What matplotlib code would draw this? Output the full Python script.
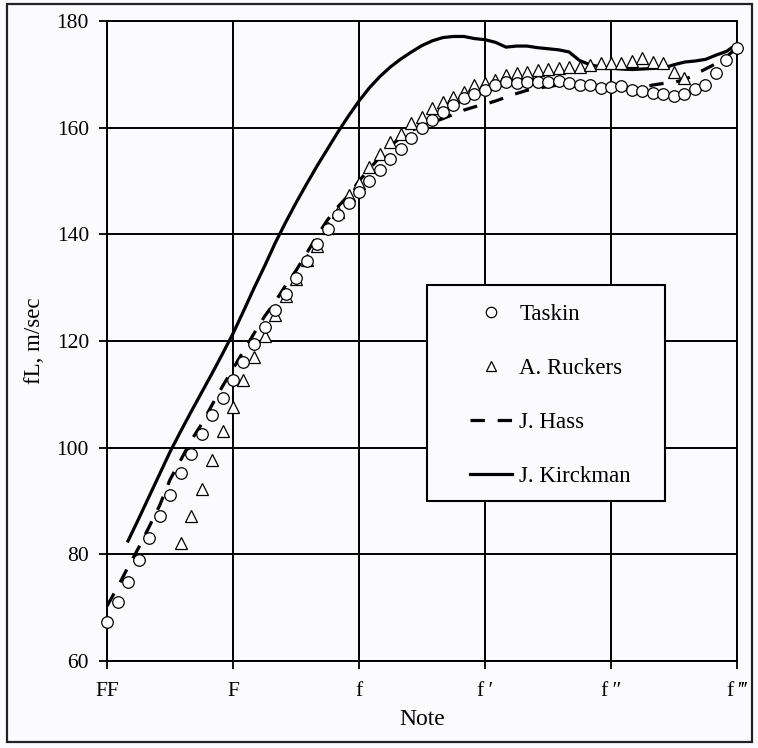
#--------------------------------------------------------------------------------------------
# Script to plot fL (m/sec) against note for four harpsichord scalings
#--------------------------------------------------------------------------------------------

import numpy as np
import matplotlib
matplotlib.use('Agg')
import matplotlib.pyplot as plt
from matplotlib.patches import Rectangle
from matplotlib.lines import Line2D

#--------------------------------------------------------------------------------------------
# DATA (x = semitones above FF)

note_labels = ['FF', 'F', 'f', 'f\u2009\u2032', 'f\u2009\u2033', 'f\u2009\u2034']
note_ticks = [0, 12, 24, 36, 48, 60]

taskin_x = list(range(0, 61))
taskin_y = [67.3, 71.1, 74.9, 78.9, 83.1, 87.1, 91.2, 95.2, 98.9, 102.6,
            106.1, 109.4, 112.7, 116.1, 119.4, 122.6, 125.9, 128.9, 131.9, 135.0,
            138.1, 141.0, 143.7, 145.8, 148.0, 150.0, 152.0, 154.1, 156.0, 158.0,
            159.9, 161.4, 163.0, 164.2, 165.5, 166.4, 167.0, 168.0, 168.6, 168.4,
            168.6, 168.6, 168.6, 168.7, 168.4, 168.0, 168.0, 167.5, 167.7, 167.8,
            167.0, 166.8, 166.5, 166.3, 165.9, 166.4, 167.2, 168.0, 170.3, 172.7,
            174.9]

ruckers_x = list(range(7, 56))
ruckers_y = [82.2, 87.2, 92.2, 97.6, 103.2, 107.7, 112.6, 117.0, 121.0, 124.8,
             128.4, 131.7, 135.1, 137.9, 141.1, 144.2, 147.4, 149.6, 152.6, 155.1,
             157.3, 158.9, 160.8, 162.0, 163.6, 164.8, 165.8, 166.7, 168.0, 168.3,
             168.9, 169.9, 170.3, 170.5, 170.8, 171.0, 171.1, 171.4, 171.4, 171.7,
             172.2, 172.2, 172.1, 172.5, 173.0, 172.3, 172.1, 170.5, 169.3]

hass_x = list(range(0, 61))
hass_y = [70.3, 73.8, 77.6, 81.2, 85.1, 89.1, 94.0, 97.6, 101.3, 104.4,
          108.0, 111.5, 114.8, 118.1, 121.4, 124.6, 127.3, 130.4, 133.2, 136.4,
          139.7, 142.7, 145.2, 147.3, 150.0, 152.3, 154.5, 156.6, 158.2, 159.5,
          160.3, 161.0, 161.7, 162.5, 163.3, 163.9, 164.4, 165.0, 165.7, 166.4,
          167.0, 167.4, 167.7, 168.0, 167.9, 167.7, 167.4, 167.2, 167.1, 167.1,
          167.3, 167.6, 168.0, 168.3, 168.5, 169.0, 170.0, 171.0, 172.0, 173.3,
          175.0]

kirckman_x = list(range(2, 61))
kirckman_y = [82.5, 86.6, 90.8, 95.0, 99.2, 103.0, 106.7, 110.3, 113.9, 117.6,
              121.4, 125.6, 129.9, 134.0, 138.3, 142.2, 145.9, 149.4, 152.8, 156.0,
              159.2, 162.2, 165.0, 167.5, 169.6, 171.4, 172.9, 174.2, 175.4, 176.3,
              176.9, 177.1, 177.1, 176.7, 176.5, 176.0, 175.1, 175.3, 175.3, 175.0,
              174.8, 174.6, 174.2, 172.6, 171.8, 171.4, 171.2, 171.0, 170.9, 171.0,
              171.1, 171.2, 171.8, 172.3, 172.5, 172.8, 173.6, 174.3, 175.7]

#--------------------------------------------------------------------------------------------
# FIGURE

plt.rcParams['font.family'] = ['Liberation Serif', 'DejaVu Serif']
bg = '#fbfafd'

W, H = 758, 748
fig = plt.figure(figsize=(W / 100, H / 100), dpi=100, facecolor=bg)

# axes box in pixels: left 107, right 737, top 21, bottom 661
ax = fig.add_axes([107 / W, (H - 661) / H, 630 / W, 640 / H], facecolor=bg)

# outer frame of the figure
fig.patches.append(Rectangle((7 / W, 6 / H), 745 / W, 738 / H, transform=fig.transFigure,
                             fill=False, edgecolor='#222222', linewidth=1.6))

#--------------------------------------------------------------------------------------------
# Plot the series

ax.plot(kirckman_x, kirckman_y, color='black', linewidth=2.3, zorder=3)
ax.plot(hass_x, hass_y, color='black', linewidth=2.3, linestyle=(0, (4.5, 4)), zorder=3)
ax.plot(ruckers_x, ruckers_y, linestyle='none', marker='^', markersize=8.5,
        markerfacecolor='white', markeredgecolor='black', markeredgewidth=0.9,
        zorder=4, clip_on=False)
ax.plot(taskin_x, taskin_y, linestyle='none', marker='o', markersize=8.3,
        markerfacecolor='white', markeredgecolor='black', markeredgewidth=0.9,
        zorder=5, clip_on=False)

#--------------------------------------------------------------------------------------------
# Axes, ticks and grid

ax.set_xlim(0, 60)
ax.set_ylim(60, 180)
ax.set_xticks(note_ticks)
ax.set_xticklabels(note_labels)
ax.set_yticks(np.arange(60, 181, 20))
ax.tick_params(direction='out', length=6, width=1.3, labelsize=15.5, pad=7, color='black')
ax.tick_params(axis='x', pad=9)
ax.grid(True, color='black', linewidth=1.4)
ax.set_axisbelow(True)
for s in ax.spines.values():
    s.set_linewidth(1.4)

ax.set_xlabel('Note', fontsize=17, labelpad=6)
ax.set_ylabel('fL, m/sec', fontsize=16.5, labelpad=8)

#--------------------------------------------------------------------------------------------
# Legend (white box drawn separately)

box = Rectangle(((427 - 107) / 630, (661 - 501) / 640), (665 - 427) / 630, (501 - 285) / 640,
                transform=ax.transAxes, facecolor=bg, edgecolor='black', linewidth=1.5, zorder=6)
ax.add_patch(box)

handles = [Line2D([], [], linestyle='none', marker='o', markersize=7.5, markerfacecolor='white',
                  markeredgecolor='black', markeredgewidth=0.9),
           Line2D([], [], linestyle='none', marker='^', markersize=7.5, markerfacecolor='white',
                  markeredgecolor='black', markeredgewidth=0.9),
           Line2D([], [], color='black', linewidth=2.3, linestyle=(0, (4.5, 4))),
           Line2D([], [], color='black', linewidth=2.3)]
leg = ax.legend(handles, ['Taskin', 'A. Ruckers', 'J. Hass', 'J. Kirckman'],
                loc='center left', bbox_to_anchor=((470 - 107) / 630, (661 - 395.5) / 640),
                frameon=False, fontsize=16.5, borderpad=0, borderaxespad=0,
                handlelength=1.85, handletextpad=0.3, labelspacing=1.45)
leg.set_zorder(7)

#--------------------------------------------------------------------------------------------
# Save the image
plt.savefig('out.png', dpi=100, facecolor=bg)
